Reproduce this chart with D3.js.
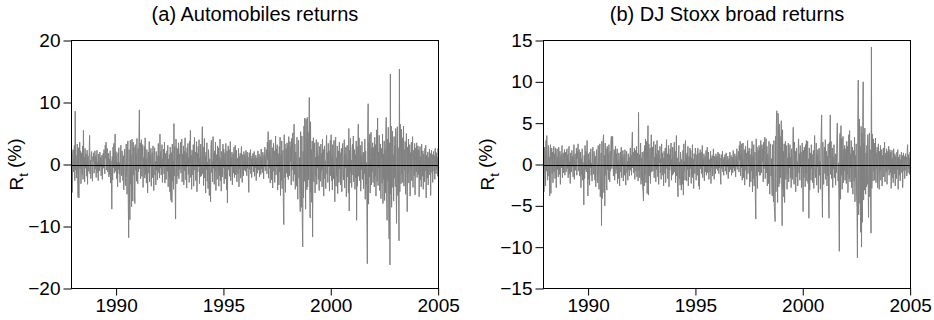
<!DOCTYPE html>
<html>
<head>
<meta charset="utf-8">
<script src="https://cdn.jsdelivr.net/npm/d3@7"></script>
<style>
  body { margin: 0; background: #fff; }
  text { font-family: "Liberation Sans", Arial, Helvetica, sans-serif; fill: #000; }
</style>
</head>
<body>
<svg id="chart" width="934" height="320"></svg>
<script>
// weekly returns (%), first week Dec 4 1987, one value per week
const autoReturns = [
  // Dec 1987
  3.9, -4.3, -4.5, 1.8,
  // 1988
  2.4, -1.2, 0.8, 3.1, -2.6, 8.6, -0.9, 1.5, -2.2, 0.6, 3.3, -1.8, -5.3, 2.7, -5.4, 1.1, 3.6, -0.7, 2.2, -3.1,
  0.4, 1.9, -1.6, 3.0, -2.4, 5.5, -0.3, 1.2, -2.8, 2.6, -0.6, 1.7, 0.9, -1.9, 2.3, -3.2, 1.4, 0.2, -1.1, 2.0,
  4.7, -1.5, 0.7, -2.3, 1.6, 2.1, -0.8, -2.7, 1.3, 0.5, 1.9, -1.4, 0.6,
  // 1989
  2.2, -0.7, 1.4, -2.1, 0.9, 2.3, -1.3, 0.4, -2.6, 1.7, 0.6, -1.0, 2.0, -0.4, 1.2, -1.8, 0.3, 1.5, -2.4, 0.8,
  1.8, -0.6, 2.4, 0.5, -1.5, 3.1, 1.0, 3.6, -0.9, 1.9, 2.6, -1.2, 0.7, 1.8, -2.0, 0.9, -1.6, 2.2, -3.0, 0.6,
  -1.9, -7.2, 1.3, -2.5, 2.8, -0.5, 3.4, -1.4, 0.8, 4.9, -1.1, 2.1,
  // 1990
  1.6, -2.3, 0.4, -3.6, 1.9, -0.8, 2.7, -1.5, 0.3, -2.9, 1.2, 3.1, -0.6, -1.8, 2.2, 0.5, -2.6, 1.4, -4.1, 0.9,
  2.5, -1.3, -3.4, 0.6, 3.3, -2.1, -4.8, 1.7, 3.8, -6.2, -11.8, 2.4, -5.6, -8.9, 3.9, -3.2, 1.5, -6.8, 4.1, -2.4,
  -5.9, 3.6, -1.7, 2.8, -4.3, -6.3, 3.2, -0.9, 1.8, -2.7, 4.2, -1.4,
  // 1991
  -3.1, 2.6, -1.2, 4.4, 8.8, -0.7, 3.5, -2.3, 1.6, 4.0, -1.9, 0.8, 3.2, -3.7, 1.1, -0.5, 2.9, -2.2, 4.3, -1.6,
  0.9, -3.0, 2.4, 1.3, -4.6, 0.6, 2.0, -1.4, 3.7, -2.8, 1.5, -0.3, 2.6, -3.5, 0.4, 1.9, -2.1, 3.0, -0.8, -4.2,
  1.2, 2.7, -1.7, 0.5, -3.3, 2.1, -0.9, 1.4, -2.5, 0.7, 3.4, -1.3,
  // 1992
  1.4, -2.2, 4.9, -0.6, 2.1, -1.7, 0.8, 3.2, -2.9, 1.0, -0.4, 2.5, -1.5, 3.6, -3.0, 0.7, 1.8, -2.4, 0.3, 2.2,
  -1.1, 3.1, -3.6, 0.9, -2.0, 1.6, -4.4, 2.8, -5.1, -5.8, 1.9, -6.1, 3.3, -2.7, 0.6, -4.0, 6.6, -1.8, 2.9, -3.4,
  -8.8, 4.1, 1.2, -3.1, 2.6, 0.4, -1.9, 3.5, -2.3, 1.7, -0.8, 2.4,
  // 1993
  3.6, -1.4, 0.9, 4.1, -2.8, 1.7, -0.5, 3.0, -3.3, 2.2, -1.0, 4.3, 0.6, -2.5, 1.9, -3.8, 2.7, -0.3, 3.4, -1.6,
  1.1, -2.9, 3.8, 0.2, 5.5, -2.1, 1.5, -4.0, 2.3, 0.8, -1.7, 3.2, -3.5, 1.4, 4.4, -0.9, 2.0, -2.6, 0.5, 3.7,
  -4.4, 1.8, -1.2, 2.9, -0.4, 4.0, -3.1, 1.0, -2.0, 3.3, 0.7, -1.8, 2.5,
  // 1994
  6.1, -1.5, 2.8, -3.4, 0.6, 4.2, -2.2, 1.3, -4.6, 2.0, -0.8, 3.5, -2.7, 0.4, -3.9, 2.4, 1.1, -5.0, 0.9, -1.6,
  -6.0, 2.6, 3.9, -1.3, 0.5, -2.8, 4.5, -0.6, 1.8, -3.2, 2.2, -1.1, 3.6, -4.2, 0.3, 1.6, -2.4, 3.0, -0.9, 2.7,
  -3.5, 1.2, -1.8, 4.1, -2.6, 0.8, -4.3, 2.1, 1.4, -2.0, 3.3, -0.5,
  // 1995
  2.5, -3.1, 0.7, 1.9, -2.3, 3.4, -1.0, -4.1, 2.2, -6.2, 1.5, 3.0, -0.8, 2.4, -1.9, 0.6, 3.7, -2.6, 1.1, -0.4,
  2.0, -3.3, 0.9, 1.7, -1.4, 2.8, -2.1, 0.3, 3.1, -1.7, -0.6, 2.3, -2.8, 1.0, 0.4, -1.5, 2.6, -3.6, 1.3, -0.7,
  1.8, -2.2, 0.5, 2.9, -1.2, -2.9, 1.6, 0.2, -1.8, 2.1, -0.9, 1.4,
  // 1996
  1.6, -1.1, 2.3, 0.4, -1.8, 2.0, -0.6, 1.2, -2.4, -4.5, 1.9, -0.8, 0.6, 2.4, -1.5, 0.9, -2.1, 1.4, -0.3, 1.8,
  -1.2, 0.5, 2.1, -1.9, 0.8, -0.5, 1.5, -2.6, 0.7, 1.1, -1.4, 2.2, -0.9, 0.3, 1.7, -2.0, 0.6, 1.3, -1.6, 2.5,
  -0.7, 1.0, -1.3, 2.0, 0.4, -2.3, 1.6, -0.4, 2.8, -1.0, 0.9, 1.7,
  // 1997
  2.4, -1.5, 3.6, 0.8, 5.3, -2.2, 1.9, -0.6, 3.9, -3.0, 1.3, 4.0, -2.5, 0.5, 2.7, -3.8, 1.6, 3.4, -1.1, 2.2,
  -2.9, 0.9, 4.6, -1.7, 2.5, -0.4, 3.2, -4.1, 1.8, 0.6, -3.3, 2.9, -1.2, 4.4, -5.0, 1.5, -2.6, 3.8, -3.9, 0.7,
  2.3, -6.3, -9.7, 4.8, -2.1, 3.3, -4.5, 1.0, 2.6, -1.4, 3.5, -2.0,
  // 1998
  3.1, -2.4, 4.5, 1.2, -1.8, 3.7, 0.4, 2.9, -3.3, 4.2, -0.9, 2.6, 5.1, -2.7, 1.5, 6.5, -1.6, 3.3, -4.0, 2.0,
  0.7, -3.5, 4.4, -1.3, -5.6, 2.8, 3.9, -2.2, 1.1, -4.8, -7.6, 5.3, -3.1, -6.9, 4.6, -9.5, -13.3, 2.1, -5.4, 6.2,
  -2.7, 7.5, 3.4, -7.2, 7.3, 1.8, -4.1, 7.6, -3.6, 5.2, -2.5, 4.0,
  // 1999
  10.8, -3.0, -8.6, 6.9, -4.5, 2.4, -6.1, 3.8, -11.7, 1.6, 4.3, -2.8, 0.9, 3.5, -4.6, 1.2, -1.9, 4.0, -3.2, 2.1,
  -0.6, 3.6, -2.4, 1.4, -4.2, 2.9, 0.3, -2.7, 3.3, -1.1, 1.8, -3.6, 4.1, -0.8, 2.4, -5.1, 1.0, 3.0, -2.3, 0.6,
  -3.9, 2.6, 4.7, -1.5, 1.9, -2.9, 3.4, -0.4, 2.2, -4.3, 1.5, 3.9, -1.8,
  // 2000
  4.8, -2.6, 1.3, -4.1, 3.2, 0.5, -2.3, 3.9, -1.0, -6.0, 2.7, 4.4, -3.5, 1.1, -1.8, 3.0, -4.7, 0.8, 2.2, -2.9,
  3.6, -0.7, 1.9, -3.3, 0.4, 2.6, -4.4, 1.5, 3.4, -1.6, -2.5, 0.9, 4.0, -3.8, 1.7, -0.5, 2.8, -5.2, 1.2, 3.1,
  -2.0, 0.6, -4.6, 5.8, -7.5, 2.3, -3.0, 4.2, -1.3, 0.7, -3.7, 2.5,
  // 2001
  3.3, -1.7, 4.6, -2.8, 0.9, 2.4, -4.0, 1.6, -2.2, 3.8, -9.0, 2.9, -3.5, 1.2, 6.5, -1.9, 4.3, -2.6, 0.5, 3.1,
  -4.3, 1.4, -0.8, 3.7, -2.4, 0.6, 2.0, -3.9, 1.8, -1.5, 4.1, -5.6, 2.2, -3.1, 0.3, -6.8, -16.0, 4.8, 9.8, -6.4,
  3.6, -2.0, 4.9, -4.6, 1.1, 5.2, -3.3, 2.7, -1.2, 3.5, -2.9, 1.9,
  // 2002
  2.8, -3.6, 4.4, -1.9, 3.2, -5.1, 1.3, 5.6, -2.7, 7.5, -3.4, 2.0, -0.6, 4.7, -4.2, 1.5, 3.3, -5.5, 0.8, 2.6,
  -3.0, 4.9, -6.3, 1.7, -2.4, 3.8, -5.8, 2.4, -4.6, 5.3, 7.6, -5.2, -9.0, 4.1, -2.6, 6.0, -7.3, -12.0, 3.5, -16.2,
  14.6, -4.8, 6.2, -6.9, 2.9, 5.4, -3.7, 1.6, -5.9, 4.5, -2.2, 3.0,
  // 2003
  -3.6, 5.8, -2.1, -9.5, 3.4, 6.1, -5.0, 2.7, -3.8, -12.3, 15.4, -4.4, 6.5, 2.0, -3.1, 5.7, -1.6, 4.3, -2.9, 1.2,
  6.2, -3.5, 2.4, -0.9, 3.7, -4.8, 1.5, 5.0, -2.3, -7.6, 2.8, -1.4, 4.1, -3.0, 0.6, 3.2, -5.1, 1.9, -0.7, 3.6,
  -2.6, 1.1, 4.5, -3.7, 0.9, 2.3, -1.8, 3.4, -4.9, 1.6, 2.7, -1.2,
  // 2004
  3.5, -2.1, 1.4, 3.0, -1.6, 2.4, -5.2, 0.8, 2.9, -2.5, 1.3, -3.6, 3.3, 0.5, -1.9, 2.2, -4.0, 1.7, 0.3, -2.8,
  2.6, -1.0, 3.1, -5.4, 1.5, 0.7, -2.2, 2.0, -3.3, 1.1, -0.5, 2.5, -1.7, 1.8, -5.0, 0.9, 2.3, -1.3, 1.6, -2.9,
  0.4, 2.1, -1.1, 1.4, -2.4, 2.6, 0.2, -1.5, 1.9, -0.8, 1.2, -1.9, 2.6,
  // Jan 2005
  -0.9
];

const stoxxReturns = [
  // Dec 1987
  3.2, -3.3, -1.2, 2.1,
  // 1988
  1.4, -2.6, 2.9, -0.8, 3.5, 1.1, -1.9, 0.6, 2.3, -1.4, 0.9, -3.8, 1.7, 2.4, -3.5, 0.4, 2.0, -1.1, 1.5, -2.2,
  0.7, 2.2, -0.9, 1.3, -1.7, 2.0, 0.5, -2.8, 1.1, 1.9, -0.6, 0.9, -1.5, 2.1, 0.3, -1.2, 1.6, -2.4, 0.8, 1.2,
  -0.4, 2.3, -1.6, 0.6, 1.4, -1.0, 0.2, 1.8, -1.3, 0.7, 1.5, -0.9, 0.8,
  // 1989
  1.9, -0.5, 1.2, -1.6, 0.8, 2.2, -1.1, 0.4, -2.3, 1.4, 0.5, -0.9, 1.7, -0.3, 1.0, -1.5, 0.6, 2.4, -1.8, 0.9,
  1.3, -0.7, 0.2, 2.0, -1.3, 1.6, 0.7, 2.5, -0.8, 1.1, 1.8, -1.4, 0.5, 1.5, -2.8, 0.7, -1.2, 1.9, -1.9, 0.3,
  -1.0, -4.9, 1.1, -1.7, 2.3, -0.6, 1.6, -0.9, 0.5, 2.9, -1.2, -3.8,
  // 1990
  1.3, -1.8, 0.6, -2.5, 1.5, -0.4, 1.9, -1.3, 0.2, -2.0, 0.9, 2.1, -0.5, -1.2, 1.6, 0.3, -1.9, 1.0, -2.7, 0.7,
  1.8, -0.9, -2.2, 0.4, 2.3, -1.5, -3.0, 1.2, 2.5, -3.9, -2.6, 1.4, -7.4, 2.8, -4.1, -2.9, 3.0, 3.6, -3.4, 1.1,
  -5.0, 2.6, -1.3, 1.9, -2.4, -3.1, 2.2, -0.6, 1.3, -1.8, 2.4, -0.8,
  // 1991
  -2.1, 1.6, -0.8, 2.9, 3.4, -0.5, 2.3, 3.4, 1.1, -1.4, 0.7, 1.8, -1.9, 0.4, 2.2, -1.1, 1.3, -0.6, 1.9, -2.3,
  0.5, -1.7, 1.4, 0.8, -2.6, 0.3, 1.5, -0.9, 2.1, -1.6, 0.9, -0.2, 1.7, -2.0, 0.6, 1.2, -1.3, 1.8, -0.5, -2.5,
  0.8, 1.6, -1.0, 0.4, -1.9, 1.3, -0.6, 0.9, -1.4, 0.5, 2.0, -0.7,
  // 1992
  1.1, -1.3, 2.4, 3.9, -0.4, 1.5, -1.0, 0.6, 2.0, -1.8, 0.3, 1.7, -0.8, 2.2, -1.5, 0.9, 1.4, -2.0, 6.3, -0.7,
  1.2, -1.6, 0.5, 2.6, -2.4, 0.8, -1.9, 1.5, -2.8, -3.2, -4.4, 1.6, -2.6, 2.3, -1.2, 3.1, -2.2, 0.7, 2.8, -3.5,
  1.9, 4.7, -3.7, 2.5, -1.4, 0.6, 2.0, -2.3, 1.1, 3.6, -0.9, 1.7,
  // 1993
  2.1, -0.8, 1.5, 2.8, -1.6, 0.9, -0.3, 2.4, -2.1, 1.3, -0.6, 2.9, 0.4, -1.5, 1.7, -2.4, 1.1, 0.2, 2.2, -1.0,
  0.7, -1.8, 2.5, 0.3, 1.4, -1.3, 0.8, -2.6, 1.6, 0.5, -1.1, 2.0, -2.2, 0.9, 3.0, -0.5, 1.3, -1.7, 0.4, 2.3,
  -2.7, 1.2, -0.7, 1.9, -0.2, 2.6, -1.9, 0.6, -1.3, 2.1, 0.4, -1.1, 1.6,
  // 1994
  2.7, -0.9, 1.6, -2.2, 0.5, 3.5, -1.4, 0.8, -2.8, -3.9, 1.2, 2.3, -1.7, 0.3, -2.5, 1.5, 0.7, -3.1, 0.6, -1.0,
  -2.4, 1.7, -3.7, 2.5, -0.8, 0.4, -1.9, 2.9, -0.3, 1.1, -2.0, 1.4, -0.6, 2.2, -2.6, 0.2, 1.0, -1.5, 2.0, -0.5,
  1.7, -2.3, 0.8, -1.2, 2.4, -1.6, 0.6, -2.9, 1.3, 0.9, -1.1, 2.0,
  // 1995
  1.5, -1.9, 0.4, 1.2, -1.3, 2.0, -0.6, -2.6, 1.4, -3.0, 0.9, 1.8, -0.5, 1.5, -1.1, 0.3, 2.3, -1.6, 0.7, -0.2,
  1.3, -2.0, 0.6, 1.0, -0.9, 1.7, -1.3, 0.2, 2.1, -1.0, -0.4, 1.5, -1.8, 0.6, 0.2, -0.9, 1.6, -2.3, 0.8, -0.4,
  1.1, -1.4, 0.3, 1.9, -0.7, -1.8, 1.0, 0.1, -1.1, 1.3, -0.5, 0.9,
  // 1996
  1.0, -0.7, 1.5, 0.3, -1.1, 1.3, -0.4, 0.8, -1.5, -2.4, 1.2, -0.5, 0.4, 1.6, -0.9, 0.6, -1.3, 0.9, -0.2, 1.2,
  -0.8, 0.3, 1.4, -1.2, 0.5, -0.3, 1.0, -1.7, 0.4, 0.7, -0.9, 1.5, -0.6, 0.2, 1.1, -1.3, 0.4, 0.9, -1.0, 1.7,
  -0.4, 0.6, -0.8, 1.3, 0.3, -1.5, 1.0, -0.3, 1.9, -0.6, 0.6, 1.1,
  // 1997
  1.6, -0.9, 2.3, 0.5, 2.8, -1.4, 1.2, -0.4, 2.5, -1.9, 0.8, 2.6, -1.6, 0.3, 1.8, -2.5, 1.0, 2.2, -0.7, 1.4,
  -1.8, 0.6, 2.9, -1.1, 1.6, -0.2, 2.0, -2.7, 1.2, 0.4, -2.1, 1.9, -0.8, 2.8, -3.3, 1.0, -1.7, 2.4, -2.6, 0.5,
  1.5, -4.1, -6.6, 3.1, -1.4, 2.1, -2.9, 0.7, 1.7, -0.9, 2.3, -1.3,
  // 1998
  2.0, -1.3, 2.9, 0.8, -1.0, 2.4, 0.3, 1.9, -2.1, 2.7, -0.5, 1.7, 3.3, -1.7, 1.0, 3.1, -1.0, 2.2, -2.6, 1.3,
  0.5, -2.3, 2.8, -0.8, -3.6, 1.8, 2.5, -1.4, 0.7, -3.1, -3.8, 2.4, -2.0, -4.5, 2.9, -5.1, -6.0, -6.9, 3.4, -3.3,
  4.8, 6.5, 2.3, -4.6, 6.2, 5.1, -2.7, 4.9, -2.3, 3.4, -1.6, 2.6,
  // 1999
  5.3, -2.0, -7.4, 4.2, -2.9, 1.6, -3.9, 2.5, -4.6, 1.1, 2.8, -1.8, 0.6, 2.3, -3.0, 0.8, -1.2, 2.6, -2.1, 1.4,
  -0.4, 2.4, -1.6, 0.9, -2.8, 1.9, 0.2, -1.8, 2.2, 4.5, 1.2, -2.4, 2.7, -0.5, 1.6, -3.3, 0.7, 2.0, -1.5, 0.4,
  -2.6, 1.7, 3.1, -1.0, 1.3, -1.9, 2.3, -0.3, 1.5, -2.8, 1.0, 2.6, -1.2,
  // 2000
  -5.7, 1.7, -1.6, 2.1, 0.8, -2.7, 2.4, -1.1, 2.9, -2.0, 1.8, 2.8, -2.3, 0.7, -6.5, 2.0, -3.1, 0.5, 1.4, -1.9,
  2.4, -0.5, 1.2, -2.2, 0.3, 1.7, -2.9, 1.0, 3.5, -1.1, -1.6, 0.6, 2.6, -2.5, 1.1, -0.3, 1.8, -3.4, 0.8, 2.0,
  -1.3, 0.4, -3.0, 1.5, 3.8, 6.0, -2.1, -6.4, 2.7, -0.9, -2.4, 1.6,
  // 2001
  2.1, -1.1, 3.0, -1.8, 0.6, 1.6, -2.6, 1.0, -1.4, 2.5, -4.2, -6.5, 2.7, 0.8, 6.0, -1.2, 2.8, -1.7, 0.3, 2.0,
  -2.8, 0.9, -0.5, 2.4, -1.6, 0.4, 1.3, -2.5, 1.2, -1.0, 2.7, 5.0, 1.4, -2.0, 0.2, -4.4, -10.5, 3.1, 3.8, -4.2,
  4.7, -1.3, 3.2, -3.0, 0.7, 3.4, -2.2, 1.8, -0.8, 2.3, -1.9, 1.2,
  // 2002
  1.9, -2.3, 2.8, -1.2, 2.2, -3.4, 0.9, 3.6, -1.7, 4.1, -2.1, 1.3, -0.4, 2.9, -2.8, 1.0, 2.1, -3.6, 0.5, 1.7,
  -2.0, 3.3, -4.5, 1.1, -1.6, 2.5, -3.8, -5.2, -11.3, 4.8, 10.2, -6.1, 3.4, 5.5, -4.7, 2.2, -8.2, 4.6, -10.0, 3.8,
  -7.0, 5.2, 10.0, -4.3, 2.6, -3.1, 4.4, -2.0, -3.6, 1.4, -2.7, 2.3,
  // 2003
  -2.4, 3.6, -1.3, -6.4, 2.5, 3.8, -3.9, 1.8, -2.6, -8.3, 14.2, -2.9, 3.7, 1.2, -2.0, 3.1, -0.8, 2.6, -1.9, 0.7,
  3.2, -2.2, 1.4, -0.5, 2.1, -2.8, 0.9, 2.5, -1.4, -3.0, 1.6, -0.7, 2.3, -1.9, 0.4, 1.8, -2.6, 1.1, -0.3, 2.0,
  -1.5, 0.6, 2.7, -2.1, 0.5, 1.4, -0.9, 1.9, -2.4, 0.8, 1.6, -0.6,
  // 2004
  2.2, -1.3, 0.9, 1.8, -1.0, 1.5, -2.9, 0.4, 1.7, -1.6, 0.8, -2.2, 1.9, 0.2, -1.1, 1.3, -2.6, 1.0, 0.1, -1.7,
  1.5, -0.6, 1.8, -3.0, 0.9, 0.4, -1.3, 1.2, -2.0, 0.6, -0.3, 1.5, -1.0, 1.1, -2.8, 0.5, 1.4, -0.8, 1.0, -1.7,
  0.2, 1.3, -0.7, 0.9, -1.4, 1.6, 2.4, -1.0, 1.2, -0.5, 0.8, -1.2, 1.5,
  // Jan 2005
  -0.4
];

const autoTicks = [-20, -10, 0, 10, 20];
const stoxxTicks = [-15, -10, -5, 0, 5, 10, 15];
const yearTicks = [1990, 1995, 2000, 2005];

const weekDates = autoReturns.map((d, i) => new Date(1987, 11, 4 + 7 * i));

const svg = d3.select('#chart');

const panels = [
  { left: 71.5, title: '(a) Automobiles returns', values: autoReturns, yMax: 20, ticks: autoTicks, labelX: 23 },
  { left: 543.5, title: '(b) DJ Stoxx broad returns', values: stoxxReturns, yMax: 15, ticks: stoxxTicks, labelX: 494 }
];

const plotW = 367, plotTop = 40.5, plotH = 248;

panels.forEach(p => {
  const x = d3.scaleTime()
    .domain(d3.extent(weekDates))
    .range([p.left, p.left + plotW]);

  const y = d3.scaleLinear()
    .domain([-p.yMax, p.yMax])
    .range([plotTop + plotH, plotTop]);

  const line = d3.line()
    .x((d, i) => x(weekDates[i]))
    .y(d => y(d));

  svg.append('path')
    .datum(p.values)
    .attr('d', line)
    .attr('fill', 'none')
    .attr('stroke', '#808080')
    .attr('stroke-width', 1);

  // zero line
  svg.append('line')
    .attr('x1', p.left).attr('x2', p.left + plotW)
    .attr('y1', Math.round(y(0)) + 0.5).attr('y2', Math.round(y(0)) + 0.5)
    .attr('stroke', '#000')
    .attr('stroke-width', 1);

  // frame
  svg.append('rect')
    .attr('x', p.left).attr('y', plotTop)
    .attr('width', plotW).attr('height', plotH)
    .attr('fill', 'none')
    .attr('stroke', '#000')
    .attr('stroke-width', 1);

  const yAxis = svg.append('g')
    .attr('transform', `translate(${p.left},0)`)
    .call(d3.axisLeft(y).tickValues(p.ticks).tickSize(8).tickPadding(3).tickSizeOuter(0));
  yAxis.select('.domain').remove();

  const xAxis = svg.append('g')
    .attr('transform', `translate(0,${plotTop + plotH})`)
    .call(d3.axisBottom(x)
      .tickValues(yearTicks.map(yr => new Date(yr, 0, 1)))
      .tickFormat(d3.timeFormat('%Y'))
      .tickSize(7).tickPadding(3).tickSizeOuter(0));
  xAxis.select('.domain').remove();

  svg.selectAll('.tick text')
    .attr('font-size', 19)
    .attr('font-family', '"Liberation Sans", Arial, sans-serif')
    .attr('fill', '#000');

  svg.append('text')
    .attr('x', p.left + plotW / 2)
    .attr('y', 21)
    .attr('text-anchor', 'middle')
    .attr('font-size', 20)
    .text(p.title);

  const lab = svg.append('text')
    .attr('transform', `translate(${p.labelX},${plotTop + plotH / 2}) rotate(-90)`)
    .attr('text-anchor', 'middle')
    .attr('font-size', 19);
  lab.append('tspan').text('R');
  lab.append('tspan').attr('font-size', 13).attr('dy', '0.35em').text('t');
  lab.append('tspan').attr('dy', '-0.35em').text(' (%)');
});
</script>
</body>
</html>
